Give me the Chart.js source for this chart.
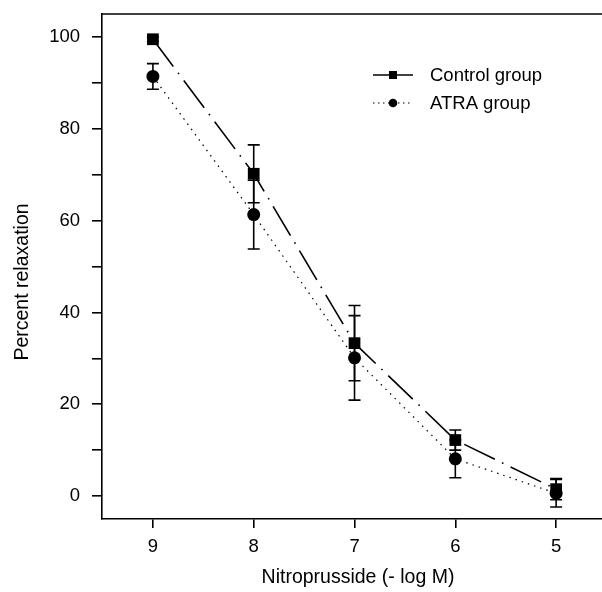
<!DOCTYPE html>
<html>
<head>
<meta charset="utf-8">
<script src="https://cdn.jsdelivr.net/npm/chart.js@4/dist/chart.umd.min.js"></script>
<style>
html,body{margin:0;padding:0;background:#fff;}
#wrap{width:602px;height:592px;position:relative;}
</style>
</head>
<body>
<div id="wrap"><canvas id="c" width="602" height="592"></canvas></div>
<script>
const xLabels = ['9', '8', '7', '6', '5'];
const yTicks = [0, 10, 20, 30, 40, 50, 60, 70, 80, 90, 100];
const controlMean = [99.5, 70.2, 33.3, 12.2, 1.5];
const controlErr = [0.5, 6.3, 8.2, 2.2, 2.3];
const atraMean = [91.4, 61.3, 30.1, 8.1, 0.6];
const atraErr = [2.8, 7.5, 9.2, 4.1, 3.0];
const seriesNames = ['Control group', 'ATRA group'];
const xTitle = 'Nitroprusside (- log M)';
const yTitle = 'Percent relaxation';

const FONT = '"Liberation Sans", Arial, sans-serif';
const INK = '#000';

const xs = xLabels.map(Number);
const toPts = (m) => m.map((v, i) => ({x: xs[i], y: v}));

const noPad = (s) => { s.paddingTop = 0; s.paddingBottom = 0; s.paddingLeft = 0; s.paddingRight = 0; };

const errPlugin = {
  id: 'errbars',
  beforeDatasetsDraw(chart) {
    const ctx = chart.ctx, xS = chart.scales.x, yS = chart.scales.y;
    const sets = [[controlMean, controlErr], [atraMean, atraErr]];
    ctx.save();
    ctx.strokeStyle = INK;
    ctx.lineWidth = 1.6;
    ctx.setLineDash([]);
    sets.forEach(([m, e]) => {
      m.forEach((v, i) => {
        const px = xS.getPixelForValue(xs[i]);
        const top = yS.getPixelForValue(v + e[i]);
        const bot = yS.getPixelForValue(v - e[i]);
        ctx.beginPath();
        ctx.moveTo(px, top); ctx.lineTo(px, bot);
        ctx.moveTo(px - 6, top); ctx.lineTo(px + 6, top);
        ctx.moveTo(px - 6, bot); ctx.lineTo(px + 6, bot);
        ctx.stroke();
      });
    });
    ctx.restore();
  },
  afterDraw(chart) {
    const ctx = chart.ctx, a = chart.chartArea;
    ctx.save();
    // top frame line
    ctx.strokeStyle = INK;
    ctx.lineWidth = 1.6;
    ctx.beginPath();
    ctx.moveTo(a.left, a.top); ctx.lineTo(chart.width, a.top);
    ctx.stroke();
    // axis titles
    ctx.fillStyle = INK;
    ctx.font = '19.5px ' + FONT;
    ctx.textAlign = 'center';
    ctx.textBaseline = 'middle';
    ctx.fillText(xTitle, 358, 578);
    ctx.save();
    ctx.translate(23, 282);
    ctx.rotate(-Math.PI / 2);
    ctx.font = '19.5px ' + FONT;
    ctx.fillText(yTitle, 0, 0);
    ctx.restore();
    // legend
    const rows = [
      {y: 75, dash: [], marker: 'rect'},
      {y: 103, dash: [1.5, 3.5], marker: 'circle'}
    ];
    ctx.textAlign = 'left';
    ctx.font = '18.5px ' + FONT;
    rows.forEach((r, i) => {
      ctx.strokeStyle = INK;
      ctx.lineWidth = r.dash.length ? 1.2 : 1.6;
      ctx.setLineDash(r.dash);
      ctx.beginPath();
      ctx.moveTo(373, r.y); ctx.lineTo(413, r.y);
      ctx.stroke();
      ctx.setLineDash([]);
      ctx.fillStyle = INK;
      if (r.marker === 'rect') {
        ctx.fillRect(389, r.y - 4, 8, 8);
      } else {
        ctx.beginPath();
        ctx.arc(393, r.y, 4.3, 0, Math.PI * 2);
        ctx.fill();
      }
      ctx.fillText(seriesNames[i], 430, r.y + 1);
    });
    ctx.restore();
  }
};

new Chart(document.getElementById('c'), {
  type: 'line',
  data: {
    datasets: [
      {
        label: seriesNames[0],
        data: toPts(controlMean),
        borderColor: INK,
        backgroundColor: INK,
        borderWidth: 1.6,
        borderDash: [34, 8, 1.5, 8],
        pointStyle: 'rect',
        pointRadius: 8.3,
        pointBorderWidth: 0,
        pointBackgroundColor: INK,
        tension: 0
      },
      {
        label: seriesNames[1],
        data: toPts(atraMean),
        borderColor: INK,
        backgroundColor: INK,
        borderWidth: 1.2,
        borderDash: [1.5, 5],
        pointStyle: 'circle',
        pointRadius: 6.5,
        pointBorderWidth: 0,
        pointBackgroundColor: INK,
        tension: 0
      }
    ]
  },
  plugins: [errPlugin],
  options: {
    responsive: false,
    animation: false,
    devicePixelRatio: 1,
    layout: {autoPadding: false, padding: {top: 14, right: 0, left: 0, bottom: 0}},
    plugins: {legend: {display: false}, tooltip: {enabled: false}, title: {display: false}},
    scales: {
      x: {
        type: 'linear',
        reverse: true,
        min: 4.545,
        max: 9.505,
        afterBuildTicks: (s) => { s.ticks = xs.map(v => ({value: v})); },
        afterFit: (s) => { s.height = 73; noPad(s); },
        grid: {drawOnChartArea: false, drawTicks: true, tickLength: 9, color: INK, lineWidth: 1.6},
        border: {display: true, color: INK, width: 1.6},
        ticks: {
          color: INK,
          font: {family: FONT, size: 18.5},
          padding: 8,
          maxRotation: 0,
          callback: (v) => String(v)
        }
      },
      y: {
        type: 'linear',
        min: -5,
        max: 105,
        afterBuildTicks: (s) => { s.ticks = yTicks.map(v => ({value: v})); },
        afterFit: (s) => { s.width = 102; noPad(s); },
        grid: {drawOnChartArea: false, drawTicks: true, tickLength: 10, color: INK, lineWidth: 1.6},
        border: {display: true, color: INK, width: 1.6},
        ticks: {
          color: INK,
          font: {family: FONT, size: 18.5},
          padding: 12,
          callback: (v) => (v % 20 === 0 ? String(v) : '')
        }
      }
    }
  }
});
</script>
</body>
</html>
